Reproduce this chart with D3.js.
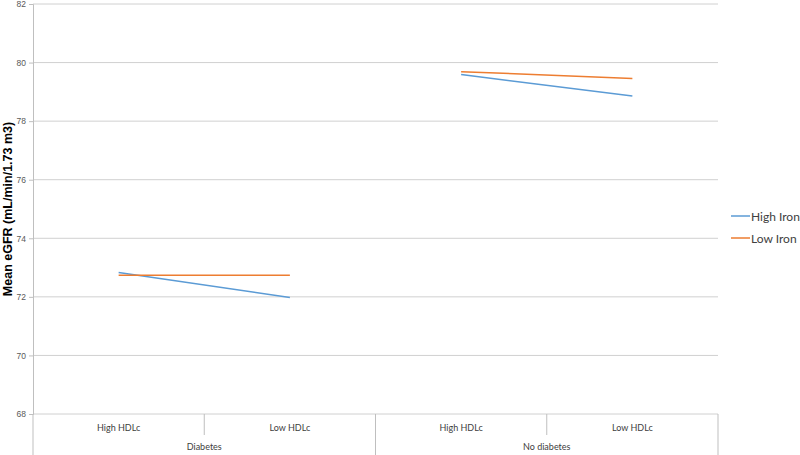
<!DOCTYPE html>
<html>
<head>
<meta charset="utf-8">
<script src="https://cdn.jsdelivr.net/npm/d3@7"></script>
<style>
  body { margin: 0; background: #fff; }
  svg { font-family: Lato, "Open Sans", sans-serif; }
</style>
</head>
<body>
<svg id="chart" width="800" height="455"></svg>
<script>
var groups = ["Diabetes", "No diabetes"];
var subCats = ["High HDLc", "Low HDLc"];
var yTicks = [68, 70, 72, 74, 76, 78, 80, 82];
var seriesNames = ["High Iron", "Low Iron"];
// values per group, [High HDLc, Low HDLc]
var highIron = [[72.83, 71.98], [79.59, 78.86]];
var lowIron = [[72.74, 72.74], [79.69, 79.46]];
var colors = ["#5b9bd5", "#ed7d31"];

// note: "top" is a reserved window prop, so use plot* names
var plotLeft = 33, plotRight = 718, plotTop = 4, plotBottom = 414;
var svg = d3.select("#chart");

var keys = [];
groups.forEach(function (g) {
    subCats.forEach(function (s) { keys.push(g + "|" + s); });
});
var x = d3.scaleBand().domain(keys).range([plotLeft, plotRight]);
var xg = d3.scaleBand().domain(groups).range([plotLeft, plotRight]);
var y = d3.scaleLinear().domain([68, 82]).range([plotBottom, plotTop]);

// gridlines
svg.append("g").selectAll("line").data(yTicks).enter().append("line")
    .attr("x1", plotLeft).attr("x2", plotRight)
    .attr("y1", function (d) { return y(d); }).attr("y2", function (d) { return y(d); })
    .attr("stroke", "#d0d0d0").attr("stroke-width", 1);

// y axis
var yAxis = svg.append("g").attr("transform", "translate(" + plotLeft + ",0)")
    .call(d3.axisLeft(y).tickValues(yTicks).tickSize(4).tickPadding(3));
yAxis.select(".domain").attr("stroke", "#bfbfbf");
yAxis.selectAll(".tick line").attr("stroke", "#bfbfbf");
yAxis.selectAll("text").attr("fill", "#595959").style("font-size", "8.5px")
    .style("font-family", "Liberation Sans, sans-serif");

svg.append("text")
    .attr("transform", "translate(12," + ((plotTop + plotBottom) / 2) + ") rotate(-90)")
    .attr("text-anchor", "middle")
    .style("font-size", "12.5px").style("font-weight", "bold")
    .style("font-family", "Liberation Sans, sans-serif")
    .attr("fill", "#000")
    .text("Mean eGFR (mL/min/1.73 m3)");

// category axis
var cat = svg.append("g");
keys.forEach(function (k, i) {
    cat.append("text")
        .attr("x", x(k) + x.bandwidth() / 2).attr("y", 431)
        .attr("text-anchor", "middle").style("font-size", "9px").attr("fill", "#404040")
        .text(k.split("|")[1]);
    if (i % 2 == 1) {
        cat.append("line")
            .attr("x1", x(k)).attr("x2", x(k)).attr("y1", plotBottom).attr("y2", 435)
            .attr("stroke", "#bfbfbf");
    }
});
groups.forEach(function (g) {
    cat.append("text")
        .attr("x", xg(g) + xg.bandwidth() / 2).attr("y", 450)
        .attr("text-anchor", "middle").style("font-size", "9px").attr("fill", "#404040")
        .text(g);
});
var edges = groups.map(function (g) { return xg(g); }).concat([plotRight]);
cat.selectAll(".edge").data(edges).enter().append("line")
    .attr("x1", function (d) { return d; }).attr("x2", function (d) { return d; })
    .attr("y1", plotBottom).attr("y2", 455).attr("stroke", "#bfbfbf");

// lines, one segment per group
var line = d3.line()
    .x(function (d) { return x(d.k) + x.bandwidth() / 2; })
    .y(function (d) { return y(d.v); });
[highIron, lowIron].forEach(function (series, si) {
    series.forEach(function (vals, gi) {
        var pts = vals.map(function (v, j) { return { k: groups[gi] + "|" + subCats[j], v: v }; });
        svg.append("path").attr("d", line(pts))
            .attr("fill", "none").attr("stroke", colors[si]).attr("stroke-width", 1.5);
    });
});

// legend
var leg = svg.append("g");
seriesNames.forEach(function (n, i) {
    var ly = 216 + i * 22;
    leg.append("line").attr("x1", 731).attr("x2", 750).attr("y1", ly).attr("y2", ly)
        .attr("stroke", colors[i]).attr("stroke-width", 1.5);
    leg.append("text").attr("x", 751).attr("y", ly + 4.5).style("font-size", "12px")
        .attr("fill", "#404040").text(n);
});
</script>
</body>
</html>
